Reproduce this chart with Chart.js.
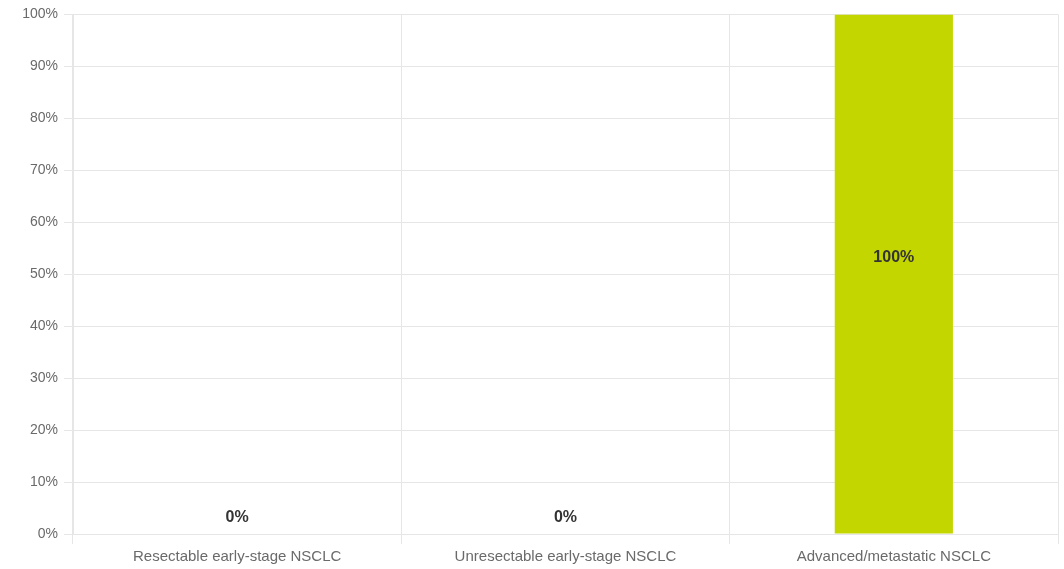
<!DOCTYPE html>
<html>
<head>
<meta charset="utf-8">
<script src="https://cdn.jsdelivr.net/npm/chart.js@4"></script>
<style>
  html, body { margin: 0; padding: 0; background: #fff; }
  #wrap { width: 1064px; height: 569px; position: relative; }
</style>
</head>
<body>
<div id="wrap"><canvas id="chart"></canvas></div>
<script>
// Share of patients by NSCLC stage
const categories = ['Resectable early-stage NSCLC', 'Unresectable early-stage NSCLC', 'Advanced/metastatic NSCLC'];
const shareValues = [0, 0, 100];
const yTickValues = [0, 10, 20, 30, 40, 50, 60, 70, 80, 90, 100];

const gridColor = '#e6e6e6';
const tickColor = '#6a6a6a';
const fontFamily = '"Liberation Sans", Arial, sans-serif';

// Writes each bar's percentage slightly above the middle of the bar
const valueLabels = {
  id: 'valueLabels',
  afterDatasetsDraw(chart) {
    const ctx = chart.ctx;
    const meta = chart.getDatasetMeta(0);
    ctx.save();
    ctx.font = 'bold 16px ' + fontFamily;
    ctx.fillStyle = '#333333';
    ctx.textAlign = 'center';
    ctx.textBaseline = 'middle';
    meta.data.forEach((bar, i) => {
      const p = bar.getProps(['x', 'y', 'base'], true);
      const mid = (p.y + p.base) / 2;
      ctx.fillText(shareValues[i] + '%', p.x, mid - 16);
    });
    ctx.restore();
  }
};

new Chart(document.getElementById('chart'), {
  type: 'bar',
  data: {
    labels: categories,
    datasets: [{
      data: shareValues,
      backgroundColor: '#c4d600',
      borderWidth: 0,
      categoryPercentage: 0.8,
      barPercentage: 0.45
    }]
  },
  options: {
    responsive: true,
    maintainAspectRatio: false,
    animation: false,
    layout: { padding: { top: 14, right: 6, left: 0, bottom: 0 } },
    plugins: {
      legend: { display: false },
      tooltip: { enabled: false }
    },
    scales: {
      x: {
        afterFit(scale) { scale.height = 35; },
        grid: { color: gridColor, offset: true, tickLength: 10, drawTicks: true },
        border: { color: gridColor },
        ticks: {
          color: tickColor,
          padding: 4,
          maxRotation: 0,
          font: { family: fontFamily, size: 15 }
        }
      },
      y: {
        min: 0,
        max: 100,
        afterFit(scale) { scale.width = 73; },
        afterBuildTicks(scale) { scale.ticks = yTickValues.map(v => ({ value: v })); },
        grid: { color: gridColor, tickLength: 9 },
        border: { color: gridColor },
        ticks: {
          color: tickColor,
          padding: 6,
          font: { family: fontFamily, size: 14 },
          callback: v => v + '%'
        }
      }
    }
  },
  plugins: [valueLabels]
});
</script>
</body>
</html>
